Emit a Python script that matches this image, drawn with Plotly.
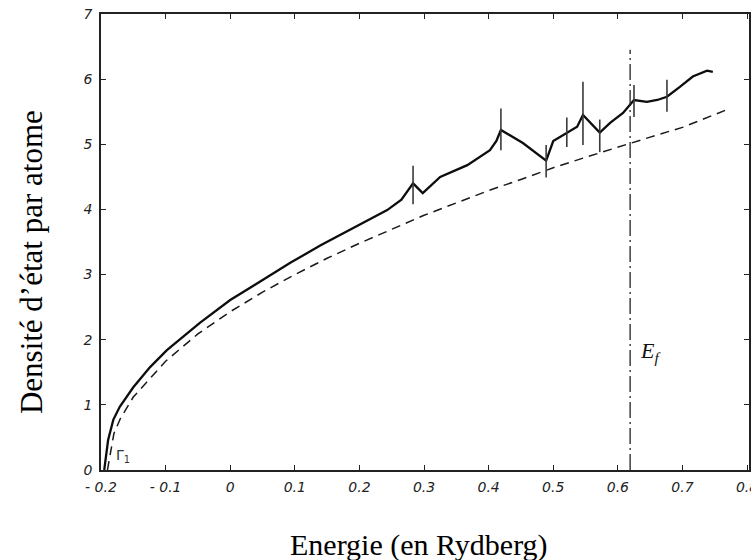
import plotly.graph_objects as go

# Solid curve: computed density of states
energy_solid = [-0.195, -0.189, -0.181, -0.171, -0.150, -0.124, -0.098, -0.047, 0.000,
                0.050, 0.093, 0.140, 0.185, 0.243, 0.265, 0.283, 0.298, 0.325, 0.367,
                0.402, 0.412, 0.419, 0.453, 0.489, 0.500, 0.521, 0.537, 0.546, 0.572,
                0.588, 0.608, 0.625, 0.645, 0.661, 0.676, 0.696, 0.716, 0.738, 0.747]
dos_solid = [0.00, 0.46, 0.77, 0.97, 1.27, 1.58, 1.84, 2.26, 2.61,
             2.92, 3.18, 3.45, 3.69, 3.99, 4.15, 4.40, 4.25, 4.50, 4.68,
             4.91, 5.05, 5.22, 5.02, 4.75, 5.05, 5.18, 5.27, 5.45, 5.18,
             5.33, 5.48, 5.68, 5.65, 5.68, 5.73, 5.88, 6.04, 6.13, 6.11]

# Dashed curve: free-electron density of states
energy_free = [-0.190, -0.180, -0.170, -0.150, -0.100, -0.050, 0.000, 0.050, 0.100,
               0.150, 0.200, 0.250, 0.300, 0.350, 0.400, 0.450, 0.500, 0.550, 0.600,
               0.650, 0.700, 0.766]
dos_free = [0.00, 0.56, 0.79, 1.12, 1.67, 2.09, 2.43, 2.73, 3.00,
            3.25, 3.48, 3.70, 3.91, 4.10, 4.29, 4.46, 4.64, 4.80, 4.96,
            5.11, 5.26, 5.52]

# Error bars on the solid curve
bar_energy = [0.283, 0.419, 0.489, 0.521, 0.546, 0.572, 0.625, 0.676]
bar_center = [4.40, 5.22, 4.75, 5.18, 5.45, 5.18, 5.68, 5.73]
bar_top = [4.67, 5.55, 4.99, 5.41, 5.96, 5.38, 5.91, 5.99]
bar_bottom = [4.08, 4.91, 4.49, 4.96, 4.99, 4.88, 5.42, 5.50]

# Fermi energy
fermi_energy = 0.619
fermi_top = 6.45

x_tickvals = [-0.2, -0.1, 0.0, 0.1, 0.2, 0.3, 0.4, 0.5, 0.6, 0.7, 0.8]
x_ticktext = ["- 0.2", "- 0.1", "0", "0.1", "0.2", "0.3", "0.4", "0.5", "0.6", "0.7", "0.8"]
y_tickvals = [0, 1, 2, 3, 4, 5, 6, 7]
y_ticktext = ["0", "1", "2", "3", "4", "5", "6", "7"]

fig = go.Figure()

fig.add_trace(go.Scatter(x=energy_free, y=dos_free, mode="lines",
                         line=dict(color="#1a1a1a", width=1.5, dash="9px,6px"),
                         showlegend=False, hoverinfo="skip"))
fig.add_trace(go.Scatter(x=energy_solid, y=dos_solid, mode="lines",
                         line=dict(color="#0d0d0d", width=2.3),
                         showlegend=False, hoverinfo="skip"))
fig.add_trace(go.Scatter(
    x=bar_energy, y=bar_center, mode="markers",
    marker=dict(size=1, color="rgba(0,0,0,0)"),
    error_y=dict(type="data", symmetric=False,
                 array=[t - c for t, c in zip(bar_top, bar_center)],
                 arrayminus=[c - b for c, b in zip(bar_center, bar_bottom)],
                 width=0, thickness=1.6, color="#3a3a3a"),
    showlegend=False, hoverinfo="skip"))
fig.add_trace(go.Scatter(x=[fermi_energy, fermi_energy], y=[0, fermi_top], mode="lines",
                         line=dict(color="#222", width=1.3, dash="16px,4px,2px,4px"),
                         showlegend=False, hoverinfo="skip"))

tick_font = dict(family="DejaVu Sans", size=14, color="#222", style="italic")

fig.update_xaxes(range=[-0.2, 0.803], tickvals=x_tickvals, ticktext=x_ticktext,
                 ticks="inside", ticklen=5, tickwidth=1.3, tickcolor="#222",
                 showline=True, linecolor="#222", linewidth=1.5, mirror="ticks",
                 showgrid=False, zeroline=False, tickfont=tick_font,
                 ticklabelstandoff=3, ticklabeloverflow="allow", automargin=False)
fig.update_yaxes(range=[0, 7.0], tickvals=y_tickvals, ticktext=y_ticktext,
                 ticks="inside", ticklen=5, tickwidth=1.3, tickcolor="#222",
                 showline=True, linecolor="#222", linewidth=1.5, mirror="ticks",
                 showgrid=False, zeroline=False, tickfont=tick_font,
                 ticklabelstandoff=4, ticklabeloverflow="allow", automargin=False)

fig.add_annotation(x=0.631, y=1.81, xref="x", yref="y", text="<i>E<sub>f</sub></i>",
                   showarrow=False, xanchor="left", yanchor="middle",
                   font=dict(family="Liberation Serif", size=22, color="#111"))
fig.add_annotation(x=-0.180, y=0.22, xref="x", yref="y", text="Γ<sub>1</sub>",
                   showarrow=False, xanchor="left", yanchor="middle",
                   font=dict(family="DejaVu Sans", size=14, color="#333"))
fig.add_annotation(x=0.49, y=-0.164, xref="paper", yref="paper",
                   text="Energie (en Rydberg)", showarrow=False,
                   xanchor="center", yanchor="middle",
                   font=dict(family="Liberation Serif", size=30, color="#000"))
fig.add_annotation(x=-0.108, y=0.456, xref="paper", yref="paper",
                   text="Densité d’état par atome", showarrow=False, textangle=-90,
                   xanchor="center", yanchor="middle",
                   font=dict(family="Liberation Serif", size=31, color="#000"))

fig.update_layout(width=751, height=560, margin=dict(l=101, r=2, t=14, b=90),
                  plot_bgcolor="white", paper_bgcolor="white")

fig.write_html("out.html")
